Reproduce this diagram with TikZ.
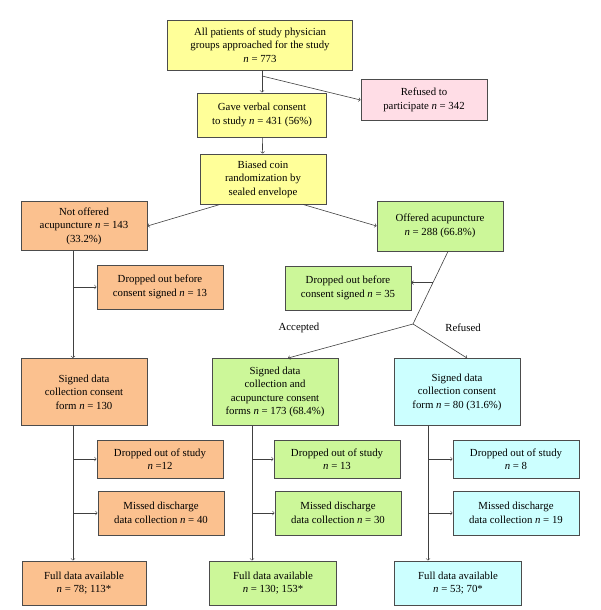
\documentclass[tikz,border=0pt]{standalone}
\usepackage{fontspec}
\setmainfont{Liberation Serif}
\usetikzlibrary{calc,arrows}

\definecolor{boxyellow}{HTML}{FFFF99}
\definecolor{boxpink}{HTML}{FFDDE6}
\definecolor{boxorange}{HTML}{FBC18F}
\definecolor{boxgreen}{HTML}{CCF799}
\definecolor{boxcyan}{HTML}{CCFFFF}
\newcommand{\ncount}[1]{\textit{n} = #1}

\tikzset{
  box/.style={draw=black!70, line width=0.9pt, align=center, inner sep=2pt,
    minimum width=126pt, font=\fontsize{10.8}{13.5}\selectfont},
  link/.style={->, line width=0.6pt, black!75}
}

\begin{document}
\begin{tikzpicture}[x=1pt,y=1pt]
				\useasboundingbox (0,0) rectangle (600,-610);
				% top of the flow
				\node[box, fill=boxyellow, minimum width=185pt, minimum height=50pt] (allpat) at (260,-45)
					{All patients of study physician\\groups approached for the study\\\ncount{773}};
				\node[box, fill=boxpink, minimum height=41pt] (refused) at (424,-100)
					{Refused to\\participate \ncount{342}};
				\node[box, fill=boxyellow, minimum width=129pt, minimum height=44pt] (verbal) at (262,-115)
					{Gave verbal consent\\to study \ncount{431} (56\%)};
				\node[box, fill=boxyellow, minimum height=50pt] (coin) at (263,-179)
					{Biased coin\\randomization by\\sealed envelope};
				% first split
				\node[box, fill=boxorange, minimum height=49pt] (notoff) at (84,-226)
					{Not offered\\acupuncture \ncount{143}\\(33.2\%)};
				\node[box, fill=boxgreen, minimum height=50pt] (offered) at (440,-226)
					{Offered acupuncture\\\ncount{288} (66.8\%)};
				\node[box, fill=boxorange, minimum height=44pt] (dropA) at (160,-287)
					{Dropped out before\\consent signed \ncount{13}};
				\node[box, fill=boxgreen, minimum height=44pt] (dropB) at (348,-288)
					{Dropped out before\\consent signed \ncount{35}};
				\node (accepted) at (299,-328) {\fontsize{10.8}{13}\selectfont Accepted};
				\node (refusedlbl) at (463,-328) {\fontsize{10.8}{13}\selectfont Refused};
				% consent forms
				\node[box, fill=boxorange, minimum height=67pt] (signA) at (84,-392)
					{Signed data\\collection consent\\form \ncount{130}};
				\node[box, fill=boxgreen, minimum height=67pt] (signB) at (275,-392)
					{Signed data\\collection and\\acupuncture consent\\forms \ncount{173} (68.4\%)};
				\node[box, fill=boxcyan, minimum height=67pt] (signC) at (457,-392)
					{Signed data\\collection consent\\form \ncount{80} (31.6\%)};
				% losses
				\node[box, fill=boxorange, minimum height=38pt] (studyA) at (160,-459)
					{Dropped out of study\\\textit{n} =12};
				\node[box, fill=boxgreen, minimum height=38pt] (studyB) at (337,-459)
					{Dropped out of study\\\ncount{13}};
				\node[box, fill=boxcyan, minimum height=38pt] (studyC) at (516,-459)
					{Dropped out of study\\\ncount{8}};
				\node[box, fill=boxorange, minimum height=44pt] (missA) at (161,-513)
					{Missed discharge\\data collection \ncount{40}};
				\node[box, fill=boxgreen, minimum height=44pt] (missB) at (338,-513)
					{Missed discharge\\data collection \ncount{30}};
				\node[box, fill=boxcyan, minimum height=44pt] (missC) at (516,-513)
					{Missed discharge\\data collection \ncount{19}};
				% full data
				\node[box, fill=boxorange, minimum width=124pt, minimum height=44pt] (fullA) at (84,-583)
					{Full data available\\\ncount{78}; 113*};
				\node[box, fill=boxgreen, minimum width=127pt, minimum height=44pt] (fullB) at (273,-583)
					{Full data available\\\ncount{130}; 153*};
				\node[box, fill=boxcyan, minimum width=127pt, minimum height=44pt] (fullC) at (458,-583)
					{Full data available\\\ncount{53}; 70*};
				% connectors
				\coordinate (splitref) at (262,-76);
				\draw[link] (allpat.south -| verbal) -- (verbal.north);
				\draw[link] (splitref) -- (refused.west);
				\draw[link] (verbal) -- (coin);
				\draw[link] ([xshift=-43pt]coin.south) -- (notoff.east);
				\draw[link] ([xshift=40pt]coin.south) -- (offered.west);
				\coordinate (trunkA) at ([xshift=-11pt]notoff.south);
				\draw[link] (trunkA) -- (trunkA |- signA.north);
				\draw[link] (trunkA |- dropA.west) -- (dropA.west);
				\coordinate (offS) at ([xshift=8pt]offered.south);
				\coordinate (branch) at (413,-324);
				\draw[line width=0.6pt, black!75] (offS) -- (branch);
				\coordinate (midB) at ($(offS)!0.43!(branch)$);
				\draw[link] (midB) -- (midB -| dropB.east);
				\draw[link] (branch) -- ([xshift=13pt]signB.north);
				\draw[link] (branch) -- ([xshift=10pt]signC.north);
				% lower trunks
				\coordinate (lowA) at ([xshift=-11pt]signA.south);
				\coordinate (lowB) at ([xshift=-23pt]signB.south);
				\coordinate (lowC) at ([xshift=-29pt]signC.south);
				\draw[link] (lowA) -- (lowA |- fullA.north);
				\draw[link] (lowB) -- (lowB |- fullB.north);
				\draw[link] (lowC) -- (lowC |- fullC.north);
				\draw[link] (lowA |- studyA.west) -- (studyA.west);
				\draw[link] (lowB |- studyB.west) -- (studyB.west);
				\draw[link] (lowC |- studyC.west) -- (studyC.west);
				\draw[link] (lowA |- missA.west) -- (missA.west);
				\draw[link] (lowB |- missB.west) -- (missB.west);
				\draw[link] (lowC |- missC.west) -- (missC.west);
			\end{tikzpicture}
\end{document}
